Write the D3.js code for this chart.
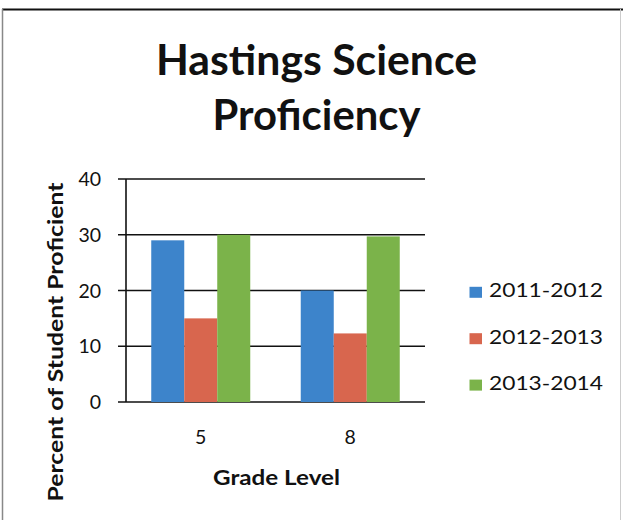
<!DOCTYPE html>
<html>
<head>
<meta charset="utf-8">
<script src="https://cdn.jsdelivr.net/npm/d3@7"></script>
<style>
  html, body { margin: 0; padding: 0; background: #fff; }
  svg { display: block; }
  text { font-family: Lato, "Open Sans", sans-serif; fill: #111; }
</style>
</head>
<body>
<svg id="chart" width="623" height="520"></svg>
<script>
const grades = ["5", "8"];
const seriesNames = ["2011-2012", "2012-2013", "2013-2014"];
const values2011 = [29, 20];
const values2012 = [15, 12.3];
const values2013 = [30, 29.7];
const yTicks = [0, 10, 20, 30, 40];
const colors = ["#3d84cb", "#d8664e", "#7bb34a"];
const titleLines = ["Hastings Science", "Proficiency"];

const seriesValues = [values2011, values2012, values2013];

const svg = d3.select("#chart");

// frame
svg.append("line").attr("x1", 2).attr("x2", 623).attr("y1", 9.5).attr("y2", 9.5)
  .attr("stroke", "#111").attr("stroke-width", 2);
svg.append("line").attr("x1", 2.5).attr("x2", 2.5).attr("y1", 9).attr("y2", 520)
  .attr("stroke", "#888").attr("stroke-width", 1.5);
svg.append("line").attr("x1", 620.5).attr("x2", 620.5).attr("y1", 9).attr("y2", 520)
  .attr("stroke", "#ccc").attr("stroke-width", 1);

const y = d3.scaleLinear().domain([0, 40]).range([402, 179]);
const x0 = d3.scaleBand().domain(grades).range([126, 425]).paddingInner(0).paddingOuter(0);
const x1 = d3.scaleBand().domain(seriesNames).range([0, x0.bandwidth()]).paddingInner(0).paddingOuter(0.765);

// gridlines
svg.append("g").selectAll("line").data(yTicks).join("line")
  .attr("x1", 118).attr("x2", 425)
  .attr("y1", d => y(d)).attr("y2", d => y(d))
  .attr("stroke", "#111").attr("stroke-width", 1.6);

// y axis line
svg.append("line").attr("x1", 126).attr("x2", 126).attr("y1", y(40)).attr("y2", y(0))
  .attr("stroke", "#111").attr("stroke-width", 1.6);

// bars
const groups = svg.append("g").selectAll("g").data(grades).join("g")
  .attr("transform", d => `translate(${x0(d)},0)`);
groups.selectAll("rect")
  .data((g, gi) => seriesNames.map((s, si) => ({ s, si, v: seriesValues[si][gi] })))
  .join("rect")
  .attr("x", d => x1(d.s))
  .attr("width", x1.bandwidth())
  .attr("y", d => y(d.v))
  .attr("height", d => y(0) - y(d.v))
  .attr("fill", d => colors[d.si]);

// y tick labels
svg.append("g").selectAll("text").data(yTicks).join("text")
  .attr("x", 101).attr("y", d => y(d)).attr("dy", "0.36em")
  .attr("text-anchor", "end").style("font-size", "19.5px")
  .text(d => d);

// x tick labels
svg.append("g").selectAll("text").data(grades).join("text")
  .attr("x", d => x0(d) + x0.bandwidth() / 2).attr("y", 444)
  .attr("text-anchor", "middle").style("font-size", "19.5px")
  .text(d => d);

// title
svg.append("g").selectAll("text").data(titleLines).join("text")
  .attr("x", 316.5).attr("y", (d, i) => 75 + i * 55)
  .attr("text-anchor", "middle")
  .style("font-size", "42px").style("font-weight", "bold")
  .attr("textLength", (d, i) => i === 0 ? 321 : 208)
  .attr("lengthAdjust", "spacingAndGlyphs")
  .text(d => d);

// axis titles
svg.append("text")
  .attr("transform", "translate(63,342) rotate(-90)")
  .attr("text-anchor", "middle")
  .style("font-size", "20.5px").style("font-weight", "bold")
  .attr("textLength", 319).attr("lengthAdjust", "spacingAndGlyphs")
  .text("Percent of Student Proficient");

svg.append("text")
  .attr("x", 276.5).attr("y", 485)
  .attr("text-anchor", "middle")
  .style("font-size", "21px").style("font-weight", "bold")
  .attr("textLength", 127).attr("lengthAdjust", "spacingAndGlyphs")
  .text("Grade Level");

// legend
const legend = svg.append("g").selectAll("g").data(seriesNames).join("g")
  .attr("transform", (d, i) => `translate(469.5, ${297.3 + i * 46.4})`);
legend.append("rect")
  .attr("x", 0).attr("y", -10.5).attr("width", 12.5).attr("height", 11)
  .attr("fill", (d, i) => colors[i]);
legend.append("text")
  .attr("x", 19.5).attr("y", 0)
  .style("font-size", "18.5px")
  .attr("textLength", 114).attr("lengthAdjust", "spacingAndGlyphs")
  .text(d => d);
</script>
</body>
</html>
